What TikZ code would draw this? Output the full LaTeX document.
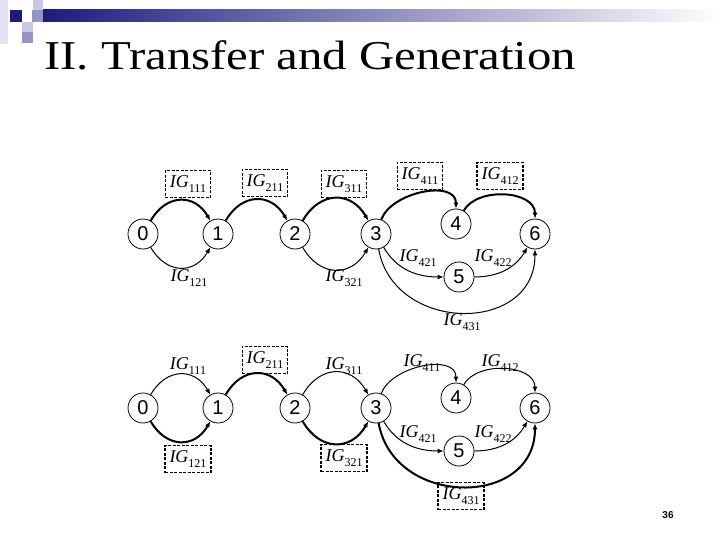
\documentclass[tikz,border=0pt]{standalone}
\usepackage{fontspec}
\setmainfont{Liberation Serif}
\setsansfont{Liberation Sans}
\newfontfamily\titlefont[FakeStretch=1.19]{Liberation Serif}
\usepackage{tikz}
\usetikzlibrary{arrows.meta}
\definecolor{hexcolor0x1c1c7c}{rgb}{0.110,0.110,0.486}
\definecolor{hexcolor0xe2e2f2}{rgb}{0.886,0.886,0.949}
\definecolor{hexcolor0xc8c8e6}{rgb}{0.784,0.784,0.902}
\definecolor{hexcolor0x9494c8}{rgb}{0.580,0.580,0.784}
\definecolor{myblack}{rgb}{0.000,0.000,0.000}
\definecolor{mywhite}{rgb}{1.000,1.000,1.000}
\newcommand{\igsub}[1]{\textit{IG}\raisebox{-0.6ex}{\fontsize{12}{12}\selectfont #1}}
\tikzstyle{state}=[circle,fill=mywhite,draw=myblack,line width=0.8pt,minimum size=30pt,inner sep=0pt,font=\sffamily\fontsize{20}{20}\selectfont]
\tikzstyle{tag}=[draw=myblack,dash pattern=on 3pt off 1.5pt,line width=1.2pt,inner xsep=4.5pt,inner ysep=3.5pt,minimum height=27pt,font=\fontsize{18}{18}\selectfont]
\tikzstyle{txt}=[inner sep=1pt,font=\fontsize{18}{18}\selectfont]
\tikzstyle{heavy}=[-{Latex[length=6pt,width=5pt]},line width=2pt]
\tikzstyle{light}=[-{Latex[length=6pt,width=5pt]},line width=1pt]

\begin{document}
\begin{tikzpicture}[x=1pt,y=-1pt]
	\useasboundingbox (0,0) rectangle (720,540);
	% slide header
	\fill [hexcolor0xe2e2f2] (0,0) rectangle (8,44);
	\shade [left color=hexcolor0x1c1c7c, right color=mywhite] (43,10) rectangle (720,22);
	\fill [hexcolor0x1c1c7c] (10,10) rectangle (22,22);
	\fill [hexcolor0xc8c8e6] (33,0) rectangle (43,10);
	\fill [hexcolor0x9494c8] (32,10) rectangle (43,22);
	\fill [hexcolor0xc8c8e6] (22,22) rectangle (33,32);
	\fill [hexcolor0x9494c8] (22,32) rectangle (33,43);
	\node [anchor=base west,inner sep=0pt,font=\titlefont\fontsize{41}{41}\selectfont] (title) at (44,70) {II. Transfer and Generation};

	% upper graph
	\node [style=state] (0) at (143,234) {0};
	\node [style=state] (1) at (218,234) {1};
	\node [style=state] (2) at (295,234) {2};
	\node [style=state] (3) at (376,234) {3};
	\node [style=state] (4) at (456,224) {4};
	\node [style=state] (5) at (459,277) {5};
	\node [style=state] (6) at (535,234) {6};

	\draw [style=heavy] (0) to[out=60,in=120,looseness=1.35] (1);
	\draw [style=light] (0) to[out=-60,in=-120,looseness=1.35] (1);
	\draw [style=heavy] (1) to[out=60,in=120,looseness=1.35] (2);
	\draw [style=heavy] (2) to[out=60,in=120,looseness=1.35] (3);
	\draw [style=light] (2) to[out=-60,in=-120,looseness=1.35] (3);
	\draw [style=heavy] (3) to[out=70,in=90] (4);
	\draw [style=heavy] (4) to[out=60,in=90] (6);
	\draw [style=light] (3) to[out=-60,in=180] (5);
	\draw [style=light] (5) to[out=0,in=-120] (6);
	\draw [style=light] (3) to[out=-80,in=-90,looseness=1.4] (6);

	\node [style=tag] (20) at (188,184) {\igsub{111}};
	\node [style=txt] (21) at (189,278) {\igsub{121}};
	\node [style=tag] (22) at (265,183) {\igsub{211}};
	\node [style=tag] (23) at (344,184) {\igsub{311}};
	\node [style=txt] (24) at (344,278) {\igsub{321}};
	\node [style=tag] (25) at (420,176) {\igsub{411}};
	\node [style=tag] (26) at (500,176) {\igsub{412}};
	\node [style=txt] (27) at (418,258) {\igsub{421}};
	\node [style=txt] (28) at (493,258) {\igsub{422}};
	\node [style=txt] (29) at (462,322) {\igsub{431}};

	% lower graph
	\node [style=state] (10) at (143,408) {0};
	\node [style=state] (11) at (218,408) {1};
	\node [style=state] (12) at (295,408) {2};
	\node [style=state] (13) at (376,408) {3};
	\node [style=state] (14) at (456,398) {4};
	\node [style=state] (15) at (459,451) {5};
	\node [style=state] (16) at (535,408) {6};

	\draw [style=light] (10) to[out=60,in=120,looseness=1.35] (11);
	\draw [style=heavy] (10) to[out=-60,in=-120,looseness=1.35] (11);
	\draw [style=heavy] (11) to[out=60,in=120,looseness=1.35] (12);
	\draw [style=light] (12) to[out=60,in=120,looseness=1.35] (13);
	\draw [style=heavy] (12) to[out=-60,in=-120,looseness=1.35] (13);
	\draw [style=light] (13) to[out=70,in=90] (14);
	\draw [style=light] (14) to[out=60,in=90] (16);
	\draw [style=light] (13) to[out=-60,in=180] (15);
	\draw [style=light] (15) to[out=0,in=-120] (16);
	\draw [style=heavy] (13) to[out=-80,in=-90,looseness=1.4] (16);

	\node [style=txt] (30) at (188,366) {\igsub{111}};
	\node [style=tag] (31) at (188,459) {\igsub{121}};
	\node [style=tag] (32) at (265,360) {\igsub{211}};
	\node [style=txt] (33) at (344,366) {\igsub{311}};
	\node [style=tag] (34) at (344,458) {\igsub{321}};
	\node [style=txt] (35) at (422,363) {\igsub{411}};
	\node [style=txt] (36) at (500,363) {\igsub{412}};
	\node [style=txt] (37) at (418,434) {\igsub{421}};
	\node [style=txt] (38) at (493,434) {\igsub{422}};
	\node [style=tag] (39) at (461,496) {\igsub{431}};

	\node [font=\sffamily\bfseries\fontsize{10}{10}\selectfont] (page) at (668,515) {36};
\end{tikzpicture}
\end{document}
